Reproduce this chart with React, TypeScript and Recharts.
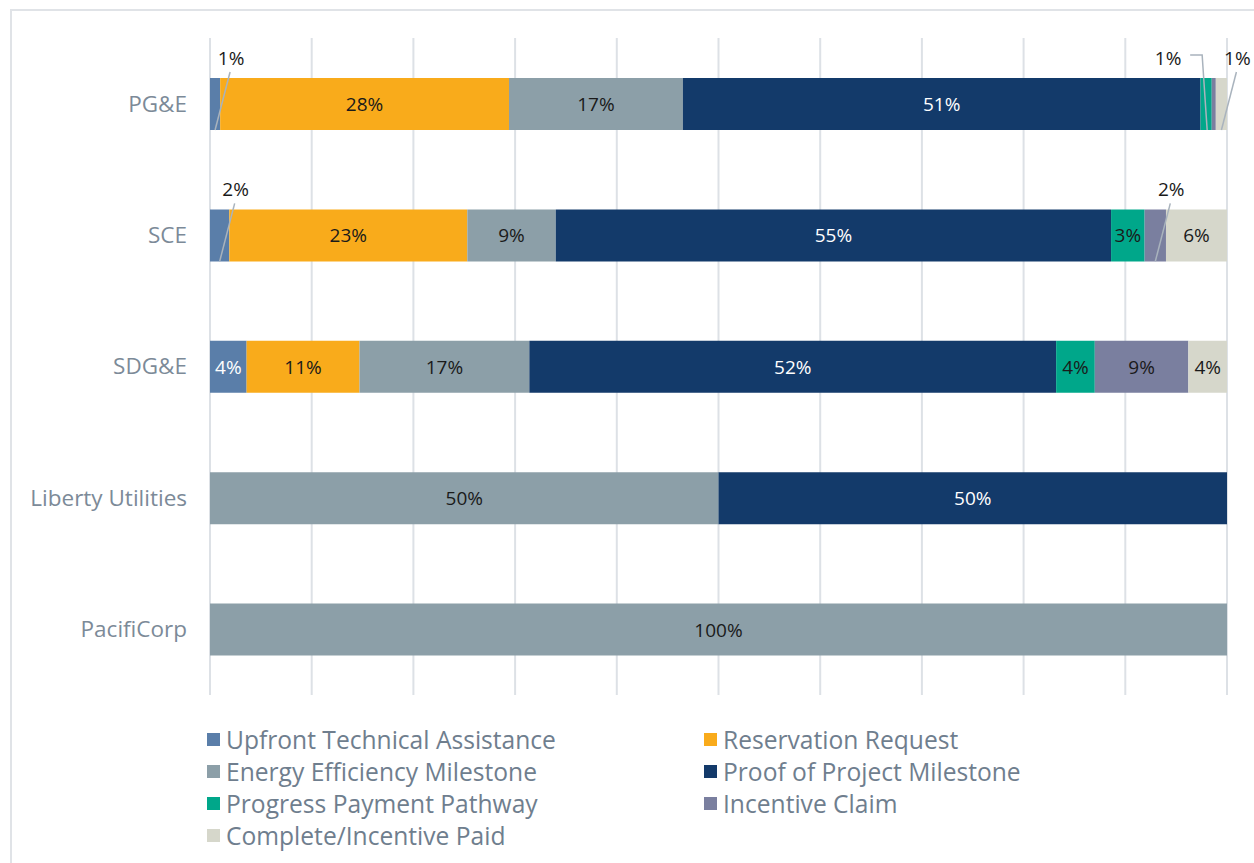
import React from 'react';
import { BarChart, Bar, XAxis, YAxis, CartesianGrid, LabelList, Legend } from 'recharts';

const utilities = ['PG&E', 'SCE', 'SDG&E', 'Liberty Utilities', 'PacifiCorp'];

const upfrontTA = [1.0, 1.9, 3.6, 0, 0];
const reservation = [28.4, 23.4, 11.1, 0, 0];
const eeMilestone = [17.1, 8.7, 16.7, 50, 100];
const proofMilestone = [50.9, 54.6, 51.8, 50, 0];
const progressPayment = [1.1, 3.3, 3.8, 0, 0];
const incentiveClaim = [0.4, 2.1, 9.2, 0, 0];
const completePaid = [1.1, 6.0, 3.8, 0, 0];

const xTicks = [0, 10, 20, 30, 40, 50, 60, 70, 80, 90, 100];

const FONT = '"Open Sans", sans-serif';

const series = [
  { key: 'uta', name: 'Upfront Technical Assistance', values: upfrontTA, color: '#5a7ea9', text: '#ffffff' },
  { key: 'rr', name: 'Reservation Request', values: reservation, color: '#f9ab1b', text: '#1a1a1a' },
  { key: 'eem', name: 'Energy Efficiency Milestone', values: eeMilestone, color: '#8c9fa8', text: '#1a1a1a' },
  { key: 'ppm', name: 'Proof of Project Milestone', values: proofMilestone, color: '#133a6a', text: '#ffffff' },
  { key: 'ppp', name: 'Progress Payment Pathway', values: progressPayment, color: '#00a78a', text: '#1a1a1a', callout: 'left' },
  { key: 'ic', name: 'Incentive Claim', values: incentiveClaim, color: '#7a7f9f', text: '#1a1a1a' },
  { key: 'cip', name: 'Complete/Incentive Paid', values: completePaid, color: '#d6d7cb', text: '#1a1a1a' },
];

const data = utilities.map((name, i) => {
  const row: Record<string, any> = { name };
  series.forEach(s => { row[s.key] = s.values[i]; });
  return row;
});

const makeLabel = (textColor: string, callout?: string) => (props: any) => {
  const { x, y, width, height, value } = props;
  const pct = Math.round(Number(value));
  if (!pct) return null;
  const label = `${pct}%`;
  const cx = x + width / 2;
  if (width >= 25) {
    return (
      <text x={cx} y={y + height / 2} fill={textColor} fontSize={19} fontFamily={FONT}
        textAnchor="middle" dominantBaseline="central">{label}</text>
    );
  }
  if (callout === 'left') {
    return (
      <g>
        <polyline points={`${cx - 16},${y - 23} ${cx - 4},${y - 23} ${cx + 1},${y + height}`}
          fill="none" stroke="#a9b3bd" strokeWidth={1.5} />
        <text x={cx - 38} y={y - 20} fill="#1a1a1a" fontSize={19} fontFamily={FONT}
          textAnchor="middle" dominantBaseline="central">{label}</text>
      </g>
    );
  }
  return (
    <g>
      <line x1={cx + 15} y1={y - 6} x2={cx} y2={y + height} stroke="#a9b3bd" strokeWidth={1.5} />
      <text x={cx + 16} y={y - 20} fill="#1a1a1a" fontSize={19} fontFamily={FONT}
        textAnchor="middle" dominantBaseline="central">{label}</text>
    </g>
  );
};

const renderLegend = () => (
  <div style={{ display: 'grid', gridTemplateColumns: '497px 497px' }}>
    {series.map(s => (
      <div key={s.key} style={{ display: 'flex', alignItems: 'center', height: 32 }}>
        <span style={{ width: 13, height: 13, background: s.color, marginRight: 6, display: 'inline-block' }} />
        <span style={{ fontFamily: FONT, fontSize: 24.6, color: '#6f7e8e', whiteSpace: 'nowrap' }}>{s.name}</span>
      </div>
    ))}
  </div>
);

export default function App() {
  return (
    <div style={{ position: 'relative', width: 1254, height: 863, overflow: 'hidden' }}>
      <style>{'body{margin:0;overflow:hidden;}'}</style>
      <div style={{
        position: 'absolute', left: 10, top: 9, width: 1260, height: 870,
        borderLeft: '2px solid #e0e3e7', borderTop: '2px solid #e0e3e7',
      }} />
      <div style={{ position: 'absolute', left: 0, top: 0 }}>
        <BarChart width={1254} height={863} data={data} layout="vertical"
          margin={{ top: 38, right: 27, bottom: 168, left: 0 }}>
          <CartesianGrid horizontal={false} stroke="#dde1e6" strokeWidth={2} />
          <XAxis type="number" domain={[0, 100]} ticks={xTicks} hide />
          <YAxis type="category" dataKey="name" width={210} axisLine={false} tickLine={false}
            tickMargin={17} tick={{ fill: '#7c8a98', fontSize: 22.5, fontFamily: FONT }} />
          <Legend layout="horizontal" verticalAlign="middle" align="center" content={renderLegend}
            wrapperStyle={{ top: 723, left: 207, width: 1000 }} />
          {series.map(s => (
            <Bar key={s.key} dataKey={s.key} name={s.name} stackId="a" fill={s.color}
              barSize={52} isAnimationActive={false}>
              <LabelList dataKey={s.key} content={makeLabel(s.text, s.callout)} />
            </Bar>
          ))}
        </BarChart>
      </div>
    </div>
  );
}
